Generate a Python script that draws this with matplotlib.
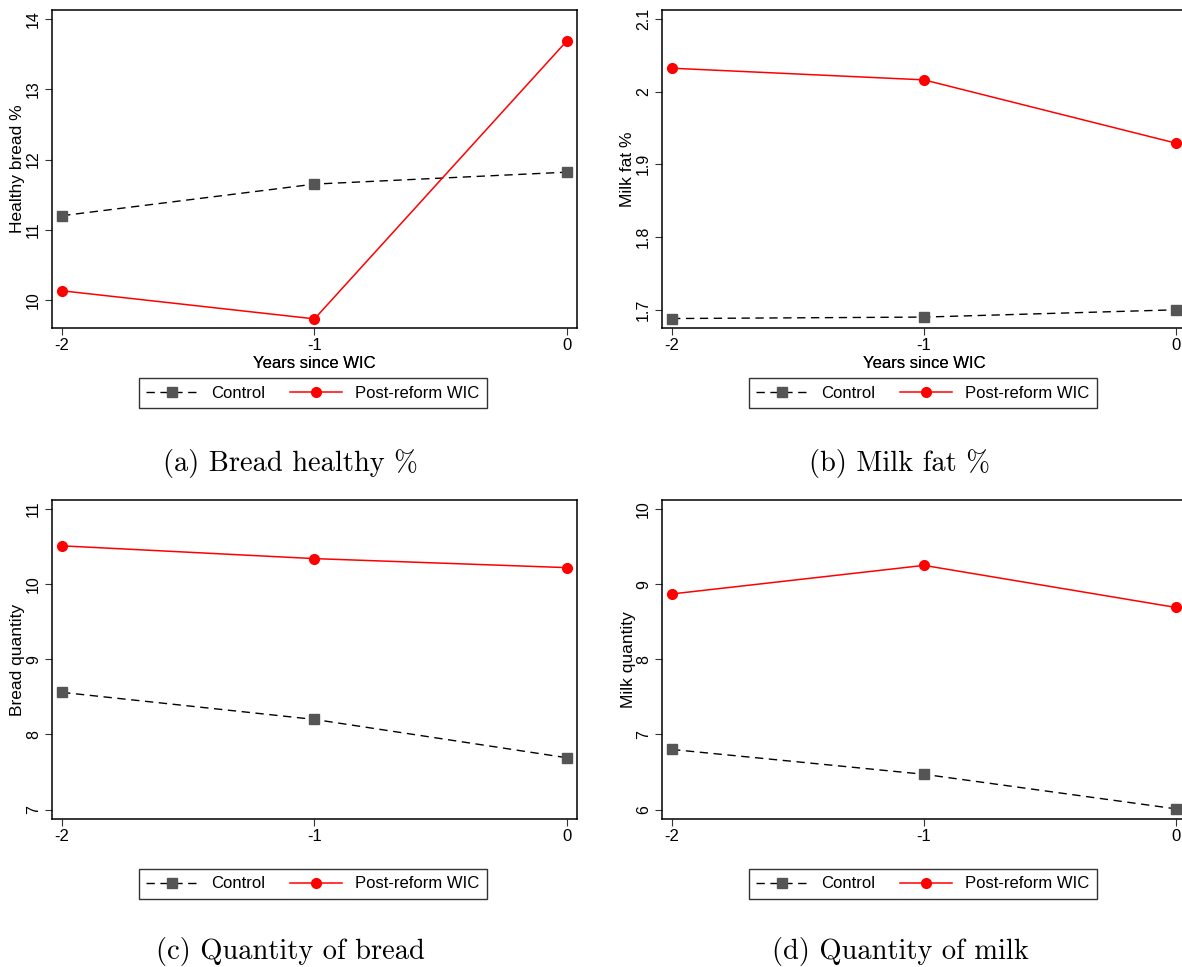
import numpy as np
import matplotlib.pyplot as plt

years = [-2, -1, 0]

bread_healthy_control = [11.20, 11.65, 11.82]
bread_healthy_wic = [10.13, 9.73, 13.69]
milk_fat_control = [1.688, 1.690, 1.700]
milk_fat_wic = [2.032, 2.016, 1.929]
bread_qty_control = [8.56, 8.20, 7.69]
bread_qty_wic = [10.51, 10.34, 10.22]
milk_qty_control = [6.80, 6.47, 6.01]
milk_qty_wic = [8.87, 9.25, 8.69]

ylabels = ['Healthy bread %', 'Milk fat %', 'Bread quantity', 'Milk quantity']
captions = ['(a) Bread healthy %', '(b) Milk fat %', '(c) Quantity of bread', '(d) Quantity of milk']
yticks = [[10, 11, 12, 13, 14], [1.7, 1.8, 1.9, 2.0, 2.1], [7, 8, 9, 10, 11], [6, 7, 8, 9, 10]]
yticklabels = [['10', '11', '12', '13', '14'], ['1.7', '1.8', '1.9', '2', '2.1'],
               ['7', '8', '9', '10', '11'], ['6', '7', '8', '9', '10']]
ylims = [(9.6, 14.13), (1.675, 2.112), (6.875, 11.12), (5.875, 10.12)]

plt.rcParams['font.family'] = ['Liberation Sans', 'DejaVu Sans']

W, H = 1182, 967
fig = plt.figure(figsize=(W / 100, H / 100), dpi=100)

# panel boxes in pixels: left, top, right, bottom
boxes = [(52, 10, 577, 328), (662, 10, 1186, 328), (52, 500, 577, 819), (662, 500, 1186, 819)]
legend_pos = [(313, 393), (923, 393), (313, 884), (923, 884)]
caption_pos = [(290, 463), (900, 463), (290, 951), (900, 951)]

series = [(bread_healthy_control, bread_healthy_wic), (milk_fat_control, milk_fat_wic),
          (bread_qty_control, bread_qty_wic), (milk_qty_control, milk_qty_wic)]

for i, (ctrl, wic) in enumerate(series):
    l, t, r, b = boxes[i]
    ax = fig.add_axes([l / W, 1 - b / H, (r - l) / W, (b - t) / H])
    h1, = ax.plot(years, ctrl, color='black', linestyle=(0, (6, 4)), linewidth=1.0,
                  marker='s', markersize=6.5, markerfacecolor='#555555', markeredgecolor='#555555',
                  label='Control')
    h2, = ax.plot(years, wic, color='#ff0000', linewidth=1.1,
                  marker='o', markersize=7, markerfacecolor='#ff0000', markeredgecolor='#ff0000',
                  label='Post-reform WIC')
    ax.set_xlim(-2.04, 0.04)
    ax.set_ylim(*ylims[i])
    ax.set_xticks(years)
    ax.set_xticklabels(['-2', '-1', '0'])
    ax.set_yticks(yticks[i])
    ax.set_yticklabels(yticklabels[i], rotation=90, va='center')
    ax.tick_params(direction='out', length=5, width=0.8, color='#333333')
    ax.tick_params(axis='x', labelsize=12, pad=2)
    ax.tick_params(axis='y', labelsize=11.5, pad=3)
    for s in ax.spines.values():
        s.set_linewidth(1.1)
    ax.set_xlabel('Years since WIC', fontsize=12)
    ax.xaxis.set_label_coords(0.5, -(363 - b) / (b - t), transform=ax.transAxes)
    ax.xaxis.label.set_va('center')
    ax.set_ylabel(ylabels[i], fontsize=12.5)
    ax.yaxis.set_label_coords(-34 / (r - l), 0.5)
    ax.yaxis.label.set_va('center')

    lx, ly = legend_pos[i]
    leg = fig.legend([h1, h2], ['Control', 'Post-reform WIC'], loc='center',
                     bbox_to_anchor=(lx / W, 1 - ly / H), ncol=2, fontsize=12,
                     handlelength=3.1, columnspacing=1.5, handletextpad=0.8,
                     fancybox=False, borderpad=0.45, frameon=True)
    leg.get_frame().set_edgecolor('black')
    leg.get_frame().set_linewidth(1.0)

    cx, cy = caption_pos[i]
    fig.text(cx / W, 1 - cy / H, captions[i], family='cmr10', fontsize=20.5,
             ha='center', va='center')

plt.savefig('out.png', dpi=100)
